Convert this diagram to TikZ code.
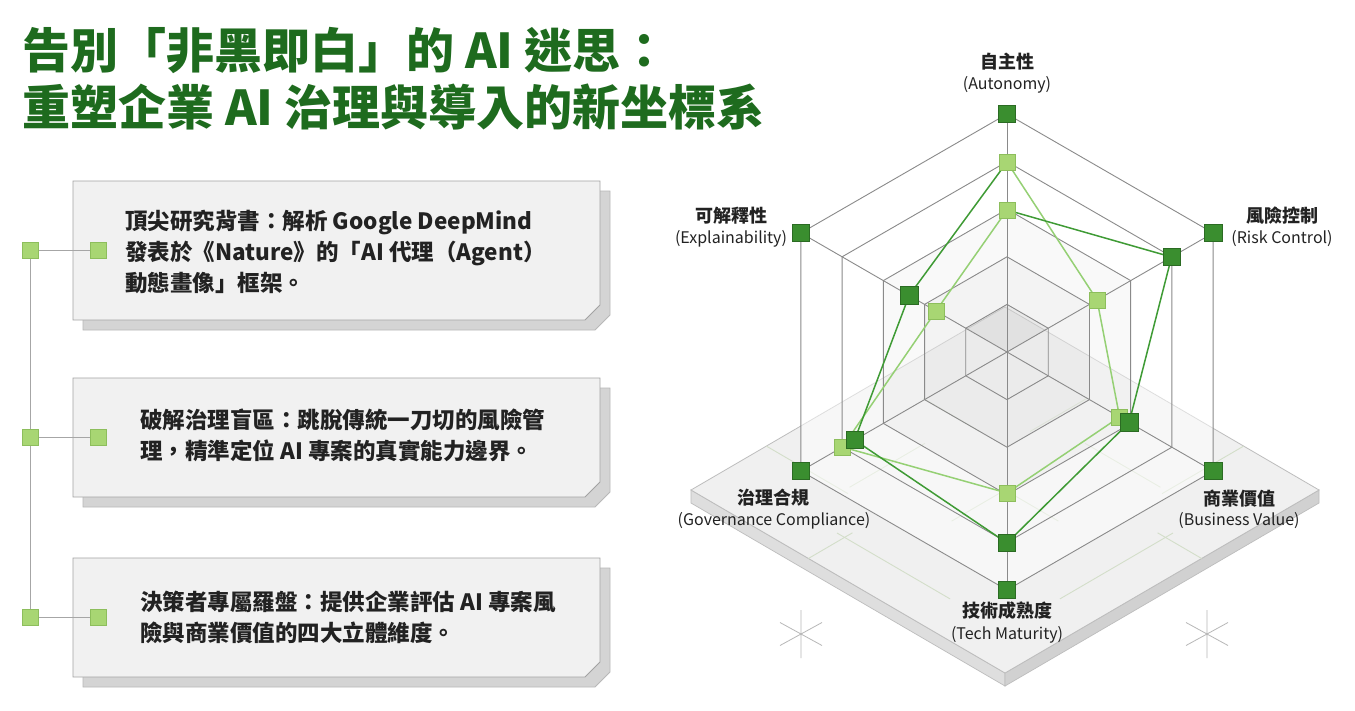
\documentclass[tikz,border=0pt]{standalone}
\usepackage{fontspec}
\setmainfont{Noto Sans CJK TC}
\usetikzlibrary{calc}
\definecolor{titlegreen}{HTML}{1E6B1E}
\definecolor{darkmk}{HTML}{3A8E2F}
\definecolor{darkmkb}{HTML}{2B6B23}
\definecolor{lightmk}{HTML}{A8D673}
\definecolor{lightmkb}{HTML}{8DBE5C}
\definecolor{darkln}{HTML}{3F9B35}
\definecolor{lightln}{HTML}{95D074}
\definecolor{webgrey}{HTML}{8A8A8A}
\definecolor{boxfill}{HTML}{F1F1F1}
\definecolor{boxdraw}{HTML}{A3A3A3}
\definecolor{shadowfill}{HTML}{D4D4D4}
\definecolor{shadowdraw}{HTML}{B8B8B8}
\definecolor{txt}{HTML}{222222}
\definecolor{platetop}{HTML}{F0F0F0}
\definecolor{plateedge}{HTML}{BDBDBD}
\definecolor{faintgrid}{HTML}{D3DEC9}
\pgfdeclarelayer{back}
\pgfdeclarelayer{mid}
\pgfsetlayers{back,mid,main}
\newcommand{\chbox}[4]{%
  \path[fill=shadowfill, draw=shadowdraw, line width=0.8pt] ({#1+10},{#2+10}) -- ({#3+10},{#2+10}) -- ({#3+10},{#4+10-15}) -- ({#3+10-15},{#4+10}) -- ({#1+10},{#4+10}) -- cycle;
  \path[fill=boxfill, draw=boxdraw, line width=0.8pt] (#1,#2) -- (#3,#2) -- (#3,{#4-15}) -- ({#3-15},#4) -- (#1,#4) -- cycle;}
\newcommand{\ppt}[2]{({691+314*((#1)+(#2))},{490+183*((#1)-(#2))})}
\newcommand{\hexring}[1]{($(C)+(-90:#1)$) -- ($(C)+(-30:#1)$) -- ($(C)+(30:#1)$) -- ($(C)+(90:#1)$) -- ($(C)+(150:#1)$) -- ($(C)+(210:#1)$) -- cycle}
\begin{document}
\begin{tikzpicture}[x=1pt,y=-1pt,
  lsq/.style={draw=lightmkb, fill=lightmk, minimum size=16pt, inner sep=0pt, line width=0.6pt},
  dsq/.style={draw=darkmkb, fill=darkmk, minimum size=17.5pt, inner sep=0pt, line width=0.6pt},
  conn/.style={draw=black!35, line width=0.9pt},
  web/.style={draw=webgrey, line width=0.9pt},
  darkser/.style={draw=darkln, line width=1.5pt},
  lightser/.style={draw=lightln, line width=1.5pt},
  titletext/.style={anchor=base west, text=titlegreen, font=\fontsize{48}{48}\selectfont\bfseries, inner sep=0pt},
  boxtext/.style={anchor=north west, align=left, text=txt, font=\fontsize{22.5}{31}\selectfont\bfseries, inner sep=0pt},
  cjlab/.style={text=txt, font=\fontsize{18}{18}\selectfont\bfseries, inner sep=0pt},
  enlab/.style={text=txt, font=\fontsize{16}{16}\selectfont, inner sep=0pt},
  star/.style={draw=black!28, line width=0.8pt},
]
\useasboundingbox (0,0) rectangle (1355,710);
\begin{pgfonlayer}{back}
\fill[white] (0,0) rectangle (1355,710);
\end{pgfonlayer}

% ---------- title ----------
\node[titletext] (title1) at (22,68) {告別「非黑即白」的 AI 迷思：};
\node[titletext] (title2) at (22,125) {重塑企業 AI 治理與導入的新坐標系};

% ---------- left boxes ----------
\begin{pgfonlayer}{back}
\chbox{73}{181}{600}{320}
\chbox{73}{378}{600}{497}
\chbox{73}{558}{600}{677}
\end{pgfonlayer}

\node[boxtext] (bt1) at (125,210) {頂尖研究背書：解析 Google DeepMind\\發表於《Nature》的「AI 代理（Agent）\\動態畫像」框架。};
\node[boxtext] (bt2) at (140,409) {破解治理盲區：跳脫傳統一刀切的風險管\\理，精準定位 AI 專案的真實能力邊界。};
\node[boxtext] (bt3) at (140,591) {決策者專屬羅盤：提供企業評估 AI 專案風\\險與商業價值的四大立體維度。};

\node[lsq] (s1) at (30,250) {};
\node[lsq] (s2) at (30,437) {};
\node[lsq] (s3) at (30,617) {};
\node[lsq] (s1b) at (98,250) {};
\node[lsq] (s2b) at (98,437) {};
\node[lsq] (s3b) at (98,617) {};
\begin{pgfonlayer}{mid}
\draw[conn] (s1) -- (s2) (s2) -- (s3);
\draw[conn] (s1) -- (s1b);
\draw[conn] (s2) -- (s2b);
\draw[conn] (s3) -- (s3b);
\end{pgfonlayer}

% ---------- plate ----------
\coordinate (PL) at (691,490);
\coordinate (PB) at (1005,673);
\coordinate (PR) at (1319,490);
\coordinate (PT) at (1005,307);
\coordinate (C) at (1007,352);
\begin{pgfonlayer}{back}
\filldraw[fill=black!13, draw=plateedge, line width=0.7pt] (PL) -- (PB) -- ($(PB)+(0,13)$) -- ($(PL)+(0,13)$) -- cycle;
\filldraw[fill=black!18, draw=plateedge, line width=0.7pt] (PB) -- (PR) -- ($(PR)+(0,13)$) -- ($(PB)+(0,13)$) -- cycle;
\filldraw[fill=platetop, draw=plateedge, line width=0.8pt] (PL) -- (PB) -- (PR) -- (PT) -- cycle;
% faint grid on the plate
\begin{scope}[draw=faintgrid, line width=0.9pt]
\draw \ppt{0}{0.24} -- \ppt{0.26}{0.24};
\draw \ppt{0.245}{0.26} -- \ppt{0.245}{0.5};
\draw \ppt{0.374}{0} -- \ppt{0.374}{0.14};
\draw \ppt{0.35}{0.115} -- \ppt{0.71}{0.115};
\draw \ppt{0.5}{0.33} -- \ppt{0.5}{0.5};
\draw \ppt{0.76}{0.74} -- \ppt{0.76}{1};
\draw \ppt{0.5}{0.755} -- \ppt{0.74}{0.755};
\draw \ppt{0.86}{0.626} -- \ppt{1}{0.626};
\draw \ppt{0.885}{0.29} -- \ppt{0.885}{0.65};
\draw \ppt{0.5}{0.5} -- \ppt{0.67}{0.5};
\draw \ppt{0.12}{0.62} -- \ppt{0.3}{0.62};
\draw \ppt{0.38}{0.88} -- \ppt{0.38}{0.7};
\end{scope}
% web shading
\fill[white, opacity=0.5] \hexring{238};
\fill[black, opacity=0.025] \hexring{142.8};
\fill[black, opacity=0.025] \hexring{95.2};
\fill[black, opacity=0.04] (C) -- ($(C)+(210:47.6)$) -- ($(C)+(-90:47.6)$) -- ($(C)+(-30:47.6)$) -- cycle;
% web rings
\foreach \k in {1,...,5} {
  \pgfmathsetmacro\rr{47.6*\k}
  \draw[web] \hexring{\rr};
}
% stars
\draw[star] (801,610) -- (801,658) (780,622.5) -- (822,645.5) (780,645.5) -- (822,622.5);
\draw[star] (1207,610) -- (1207,658) (1186,622.5) -- (1228,645.5) (1186,645.5) -- (1228,622.5);
\end{pgfonlayer}

% ---------- axis markers ----------
\node[dsq] (mA) at ($(C)+(-90:238)$) {};
\node[dsq] (mR) at ($(C)+(-30:238)$) {};
\node[dsq] (mB) at ($(C)+(30:238)$) {};
\node[dsq] (mT) at ($(C)+(90:238)$) {};
\node[dsq] (mG) at ($(C)+(150:238)$) {};
\node[dsq] (mE) at ($(C)+(210:238)$) {};
\begin{pgfonlayer}{back}
\foreach \m in {mA,mR,mB,mT,mG,mE} \draw[web] (C) -- (\m.center);
\end{pgfonlayer}

% ---------- series markers ----------
\node[lsq] (aL1) at ($(C)+(-90:190)$) {};
\node[lsq] (aL2) at ($(C)+(-90:142)$) {};
\node[lsq] (rL) at ($(C)+(-30:104)$) {};
\node[dsq] (rD) at ($(C)+(-30:190)$) {};
\node[lsq] (bL) at ($(C)+(30:130)$) {};
\node[dsq] (bD) at ($(C)+(30:141)$) {};
\node[lsq] (tL) at ($(C)+(90:141)$) {};
\node[dsq] (tD) at ($(C)+(90:191)$) {};
\node[lsq] (gL) at ($(C)+(150:190)$) {};
\node[dsq] (gD) at ($(C)+(150:176)$) {};
\node[lsq] (eL) at ($(C)+(210:82)$) {};
\node[dsq] (eD) at ($(C)+(210:113)$) {};

\begin{pgfonlayer}{mid}
\draw[lightser] (aL1.center) -- (rL.center);
\draw[lightser] (rL.center) -- (bL.center);
\draw[lightser] (bL.center) -- (tL.center);
\draw[lightser] (tL.center) -- (gL.center);
\draw[lightser] (gL.center) -- (eL.center);
\draw[lightser] (eL.center) -- (aL2.center);
\draw[darkser] (aL1.center) -- (eD.center);
\draw[darkser] (eD.center) -- (gD.center);
\draw[darkser] (gD.center) -- (tD.center);
\draw[darkser] (tD.center) -- (bD.center);
\draw[darkser] (bD.center) -- (rD.center);
\draw[darkser] (rD.center) -- (aL2.center);
\end{pgfonlayer}

% ---------- labels ----------
\node[cjlab] (lA) at (1007,62) {自主性};
\node[enlab] (lA2) at (1007,85) {(Autonomy)};
\node[cjlab] (lE) at (731,216) {可解釋性};
\node[enlab] (lE2) at (731,239) {(Explainability)};
\node[cjlab] (lR) at (1282,216) {風險控制};
\node[enlab] (lR2) at (1282,239) {(Risk Control)};
\node[cjlab] (lG) at (773,498) {治理合規};
\node[enlab] (lG2) at (774,521) {(Governance Compliance)};
\node[cjlab] (lB) at (1239,499) {商業價值};
\node[enlab] (lB2) at (1239,521) {(Business Value)};
\node[cjlab] (lT) at (1007,611) {技術成熟度};
\node[enlab] (lT2) at (1007,635) {(Tech Maturity)};
\end{tikzpicture}
\end{document}
